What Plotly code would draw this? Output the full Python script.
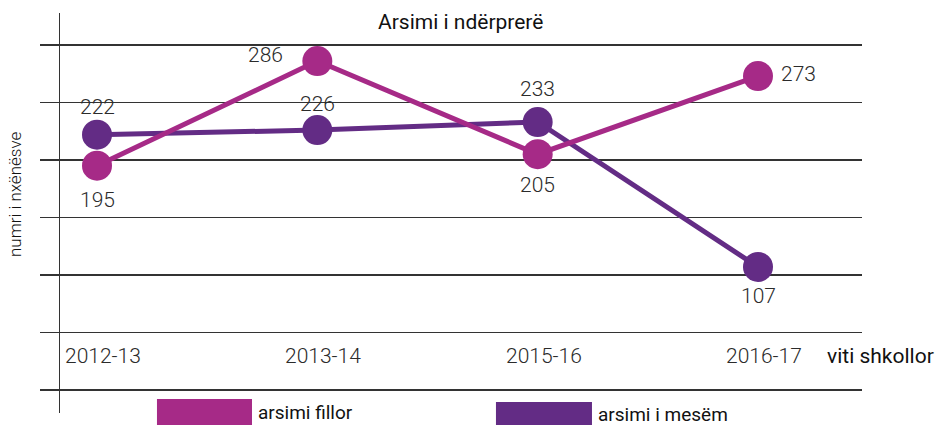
import plotly.graph_objects as go

categories = ["2012-13", "2013-14", "2015-16", "2016-17"]
fillor = [195, 286, 205, 273]
mesem = [222, 226, 233, 107]
series_names = ["arsimi fillor", "arsimi i mesëm"]
title_text = "Arsimi i ndërprerë"
x_title = "viti shkollor"
y_title = "numri i nxënësve"

C_FILLOR = "#A62A87"
C_MESEM = "#632C85"
FONT = "Roboto"
TXT = "#2b2b2b"

# label offsets in pixels (dx, dy) for each point's value label
fillor_label_off = [(0, -34), (-52, 6), (0, -31), (40, 2)]
mesem_label_off = [(0, 28), (0, 26), (0, 33), (0, -29)]

xs = list(range(len(categories)))

fig = go.Figure()
for vals, col, name in [(mesem, C_MESEM, series_names[1]), (fillor, C_FILLOR, series_names[0])]:
    fig.add_trace(go.Scatter(
        x=xs, y=vals, mode="lines+markers", name=name,
        line=dict(color=col, width=5),
        marker=dict(color=col, size=30),
        cliponaxis=False, showlegend=False, hoverinfo="skip",
    ))

annotations = []
for vals, offs in [(fillor, fillor_label_off), (mesem, mesem_label_off)]:
    for i, v in enumerate(vals):
        annotations.append(dict(x=i, y=v, xref="x", yref="y", text=str(v), showarrow=False,
                                xshift=offs[i][0], yshift=offs[i][1],
                                font=dict(family=FONT, size=21, color=TXT, weight=300)))
for i, c in enumerate(categories):
    annotations.append(dict(x=i, y=30, xref="x", yref="y", text=c, showarrow=False, xshift=6,
                            font=dict(family=FONT, size=21, color=TXT, weight=300)))
annotations.append(dict(x=0.955, y=0.1425, xref="paper", yref="paper", text=x_title,
                        showarrow=False, xanchor="left", yanchor="middle",
                        font=dict(family=FONT, size=21, color="#111")))
annotations.append(dict(x=0.511, y=0.9775, xref="paper", yref="paper", text=title_text,
                        showarrow=False, xanchor="center", yanchor="middle",
                        font=dict(family=FONT, size=21, color="#111")))
annotations.append(dict(x=-0.0304, y=0.545, xref="paper", yref="paper", text=y_title,
                        showarrow=False, textangle=-90, xanchor="center", yanchor="middle",
                        font=dict(family=FONT, size=17, color="#111", weight=300)))
# legend
legend_specs = [(0.1423, 0.2579, 0.035, 0.2628, 0.0025, C_FILLOR, series_names[0]),
                (0.5547, 0.6715, 0.0275, 0.6764, -0.0025, C_MESEM, series_names[1])]
shapes = []
for x0, x1, ytop, tx, ty, col, name in legend_specs:
    shapes.append(dict(type="rect", xref="paper", yref="paper", x0=x0, x1=x1,
                       y0=-0.04, y1=ytop, fillcolor=col, line=dict(width=0), layer="above"))
    annotations.append(dict(x=tx, y=ty, xref="paper", yref="paper", text=name,
                            showarrow=False, xanchor="left", yanchor="middle",
                            font=dict(family=FONT, size=19, color="#111")))

fig.update_layout(
    width=936, height=425,
    margin=dict(l=40, r=74, t=13, b=12),
    paper_bgcolor="white", plot_bgcolor="white",
    showlegend=False,
    xaxis=dict(range=[-0.2587, 3.472], showgrid=False, zeroline=False,
               showticklabels=False, showline=False, fixedrange=True),
    yaxis=dict(range=[-20, 327.8], tick0=0, dtick=50, showgrid=True,
               gridcolor="#333", gridwidth=1.3, zeroline=False,
               showticklabels=False, ticks="", showline=True, linecolor="#333",
               linewidth=1.5, anchor="free", position=0.0231, fixedrange=True),
    annotations=annotations, shapes=shapes,
)

fig.write_html("out.html", config={"displayModeBar": False, "staticPlot": True})
with open("out.html", encoding="utf-8") as f:
    html = f.read()
html = html.replace("<head>", "<head><style>html,body{margin:0;padding:0;overflow:hidden;}</style>", 1)
with open("out.html", "w", encoding="utf-8") as f:
    f.write(html)
